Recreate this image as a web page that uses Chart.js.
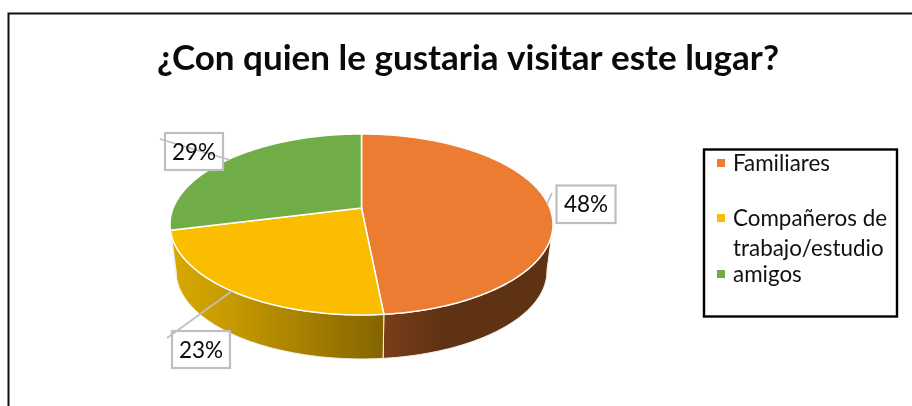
<!DOCTYPE html>
<html>
<head>
<meta charset="utf-8">
<style>html,body{margin:0;padding:0;background:#fff}canvas{display:block}</style>
<script src="https://cdn.jsdelivr.net/npm/chart.js@4"></script>
</head>
<body>
<canvas id="c" width="912" height="406"></canvas>
<script>
const titleText = '¿Con quien le gustaria visitar este lugar?';
const categories = ['Familiares', 'Compañeros de\ntrabajo/estudio', 'amigos'];
const shares = [48.45, 22.65, 28.9];
const sliceColors = ['#EB7C31', '#FBBD00', '#70AD47'];

const view = {cx: 361.5, cy: 208, rx: 188.3, ry: 87.5, c: 0.182, depth: 47.4, shrink: 0.968};
const labelBoxes = [
  {x: 556.5, y: 185.5, w: 59, h: 37.5, line: [[552, 193], [547, 204]]},
  {x: 172, y: 331, w: 58, h: 37, line: [[232, 291], [167, 338]]},
  {x: 165, y: 133, w: 58, h: 37, line: [[160, 139], [230, 160]]}
];
const legendBox = {x: 704, y: 149.5, w: 193, h: 167};
const legendRows = [
  {markY: 159, base: [171]},
  {markY: 214, base: [226, 256]},
  {markY: 270, base: [282]}
];

function project(theta, bottom) {
  const u = Math.sin(theta), v = -Math.cos(theta), d = 1 - view.c * v;
  const s = bottom ? view.shrink : 1;
  return [view.cx + s * view.rx * u / d, view.cy + (bottom ? view.depth : 0) + s * view.ry * v / d];
}
function rimPoints(a, b, bottom) {
  const pts = [], n = Math.max(2, Math.ceil(Math.abs(b - a) / 0.01));
  for (let i = 0; i <= n; i++) pts.push(project(a + (b - a) * i / n, bottom));
  return pts;
}
function tracePath(ctx, pts) {
  ctx.beginPath();
  pts.forEach((p, i) => i ? ctx.lineTo(p[0], p[1]) : ctx.moveTo(p[0], p[1]));
  ctx.closePath();
}
function sideFill(ctx, i) {
  let g;
  if (i === 0) {
    g = ctx.createLinearGradient(382, 0, 552, 0);
    g.addColorStop(0, '#7A3D18'); g.addColorStop(0.35, '#5F3213'); g.addColorStop(1, '#5F3213');
  } else if (i === 1) {
    g = ctx.createLinearGradient(172, 0, 382, 0);
    g.addColorStop(0, '#D9A900'); g.addColorStop(0.3, '#C49800'); g.addColorStop(1, '#856500');
  } else {
    g = '#4A7230';
  }
  return g;
}

const pie3d = {
  id: 'pie3d',
  beforeDatasetDraw() { return false; },
  afterDatasetsDraw(chart) {
    const ctx = chart.ctx, arcs = chart.getDatasetMeta(0).data;
    const vis0 = Math.acos(-view.c), vis1 = 2 * Math.PI - vis0;
    const angles = arcs.map(a => {
      const p = a.getProps(['startAngle', 'endAngle'], true);
      return [p.startAngle + Math.PI / 2, p.endAngle + Math.PI / 2];
    });
    ctx.save();
    ctx.lineJoin = 'round';
    angles.forEach((an, i) => {
      const a = Math.max(an[0], vis0), b = Math.min(an[1], vis1);
      if (b <= a) return;
      tracePath(ctx, rimPoints(a, b, false).concat(rimPoints(b, a, true)));
      ctx.fillStyle = sideFill(ctx, i);
      ctx.fill();
      ctx.strokeStyle = '#F4F1EA';
      ctx.lineWidth = 1;
      ctx.stroke();
    });
    angles.forEach((an, i) => {
      tracePath(ctx, [[view.cx, view.cy]].concat(rimPoints(an[0], an[1], false)));
      ctx.fillStyle = sliceColors[i];
      ctx.fill();
      ctx.strokeStyle = '#FFFFFF';
      ctx.lineWidth = 1.5;
      ctx.stroke();
    });
    ctx.restore();
  },
  afterDraw(chart) {
    const ctx = chart.ctx;
    ctx.save();
    // page frame
    ctx.strokeStyle = '#111';
    ctx.lineWidth = 2;
    ctx.beginPath();
    ctx.moveTo(8.5, 406); ctx.lineTo(8.5, 13.5); ctx.lineTo(912, 13.5);
    ctx.stroke();
    // data labels
    const values = chart.data.datasets[0].data;
    ctx.font = '22.5px Lato';
    ctx.textAlign = 'center';
    ctx.textBaseline = 'alphabetic';
    labelBoxes.forEach((b, i) => {
      ctx.fillStyle = '#fff';
      ctx.fillRect(b.x, b.y, b.w, b.h);
      ctx.strokeStyle = '#BFBFBF';
      ctx.lineWidth = 2.2;
      ctx.strokeRect(b.x, b.y, b.w, b.h);
      ctx.lineWidth = 1.8;
      ctx.beginPath();
      ctx.moveTo(b.line[0][0], b.line[0][1]);
      ctx.lineTo(b.line[1][0], b.line[1][1]);
      ctx.stroke();
      ctx.fillStyle = '#0b0b0b';
      ctx.fillText(Math.round(values[i]) + '%', b.x + b.w / 2, b.y + b.h / 2 + 8);
    });
    // legend
    ctx.strokeStyle = '#000';
    ctx.lineWidth = 2.4;
    ctx.strokeRect(legendBox.x, legendBox.y, legendBox.w, legendBox.h);
    ctx.font = '22.4px Lato';
    ctx.textAlign = 'left';
    chart.data.labels.forEach((lab, i) => {
      const r = legendRows[i];
      ctx.fillStyle = sliceColors[i];
      ctx.fillRect(717, r.markY, 8, 8);
      ctx.fillStyle = '#111';
      lab.split('\n').forEach((t, k) => ctx.fillText(t, 733, r.base[k]));
    });
    ctx.restore();
  }
};

new Chart(document.getElementById('c'), {
  type: 'pie',
  data: {labels: categories, datasets: [{data: shares, backgroundColor: sliceColors, borderColor: '#fff', borderWidth: 1.5}]},
  plugins: [pie3d],
  options: {
    responsive: false,
    animation: false,
    layout: {padding: {left: 24, top: 38}},
    plugins: {
      legend: {display: false},
      tooltip: {enabled: false},
      title: {
        display: true,
        text: titleText,
        color: '#0a0a0a',
        font: {family: 'Lato', size: 35, weight: 'bold'},
        padding: {top: 0, bottom: 10}
      }
    }
  }
});
</script>
</body>
</html>
